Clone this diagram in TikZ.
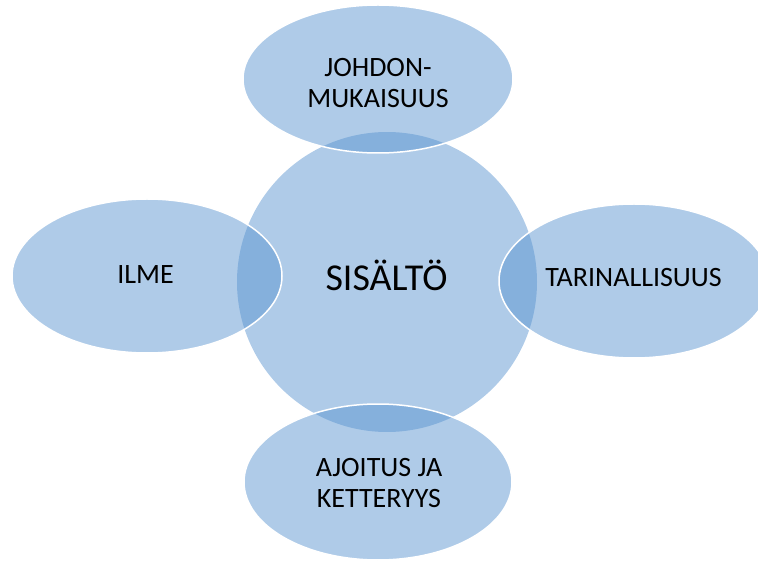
\documentclass[tikz,border=0pt]{standalone}
\usepackage{fontspec}
\setmainfont{Carlito}
\definecolor{petal}{RGB}{87,146,207}
\begin{document}
\begin{tikzpicture}[x=1pt,y=-1pt,
  blob/.style={fill=petal,fill opacity=0.475,draw=white,line width=1.5pt},
  hub/.style={fill=petal,fill opacity=0.475},
  lbl/.style={inner sep=0pt,text=black,align=center,font=\fontsize{28}{30.5}\selectfont},
  big/.style={inner sep=0pt,text=black,font=\fontsize{38}{42}\selectfont}]
  \useasboundingbox (0,0) rectangle (758,561);
  \clip (0,0) rectangle (758,561);
  % centre circle
  \fill[hub] (387,282) circle [radius=150];
  % four surrounding ellipses
  \path[blob] (378,79) ellipse [x radius=135,y radius=74];
  \path[blob] (147,276) ellipse [x radius=135,y radius=77];
  \path[blob] (634,281) ellipse [x radius=135,y radius=77];
  \path[blob] (378,482) ellipse [x radius=134,y radius=78];
  % labels
  \node[big,anchor=base] (hubtext) at (386.5,291) {SISÄLTÖ};
  \node[lbl] (top) at (378,83) {JOHDON-\\MUKAISUUS};
  \node[lbl,anchor=base] (left) at (145.5,284) {ILME};
  \node[lbl,anchor=base] (right) at (633.5,287) {TARINALLISUUS};
  \node[lbl] (bottom) at (379,483) {AJOITUS JA\\KETTERYYS};
\end{tikzpicture}
\end{document}
